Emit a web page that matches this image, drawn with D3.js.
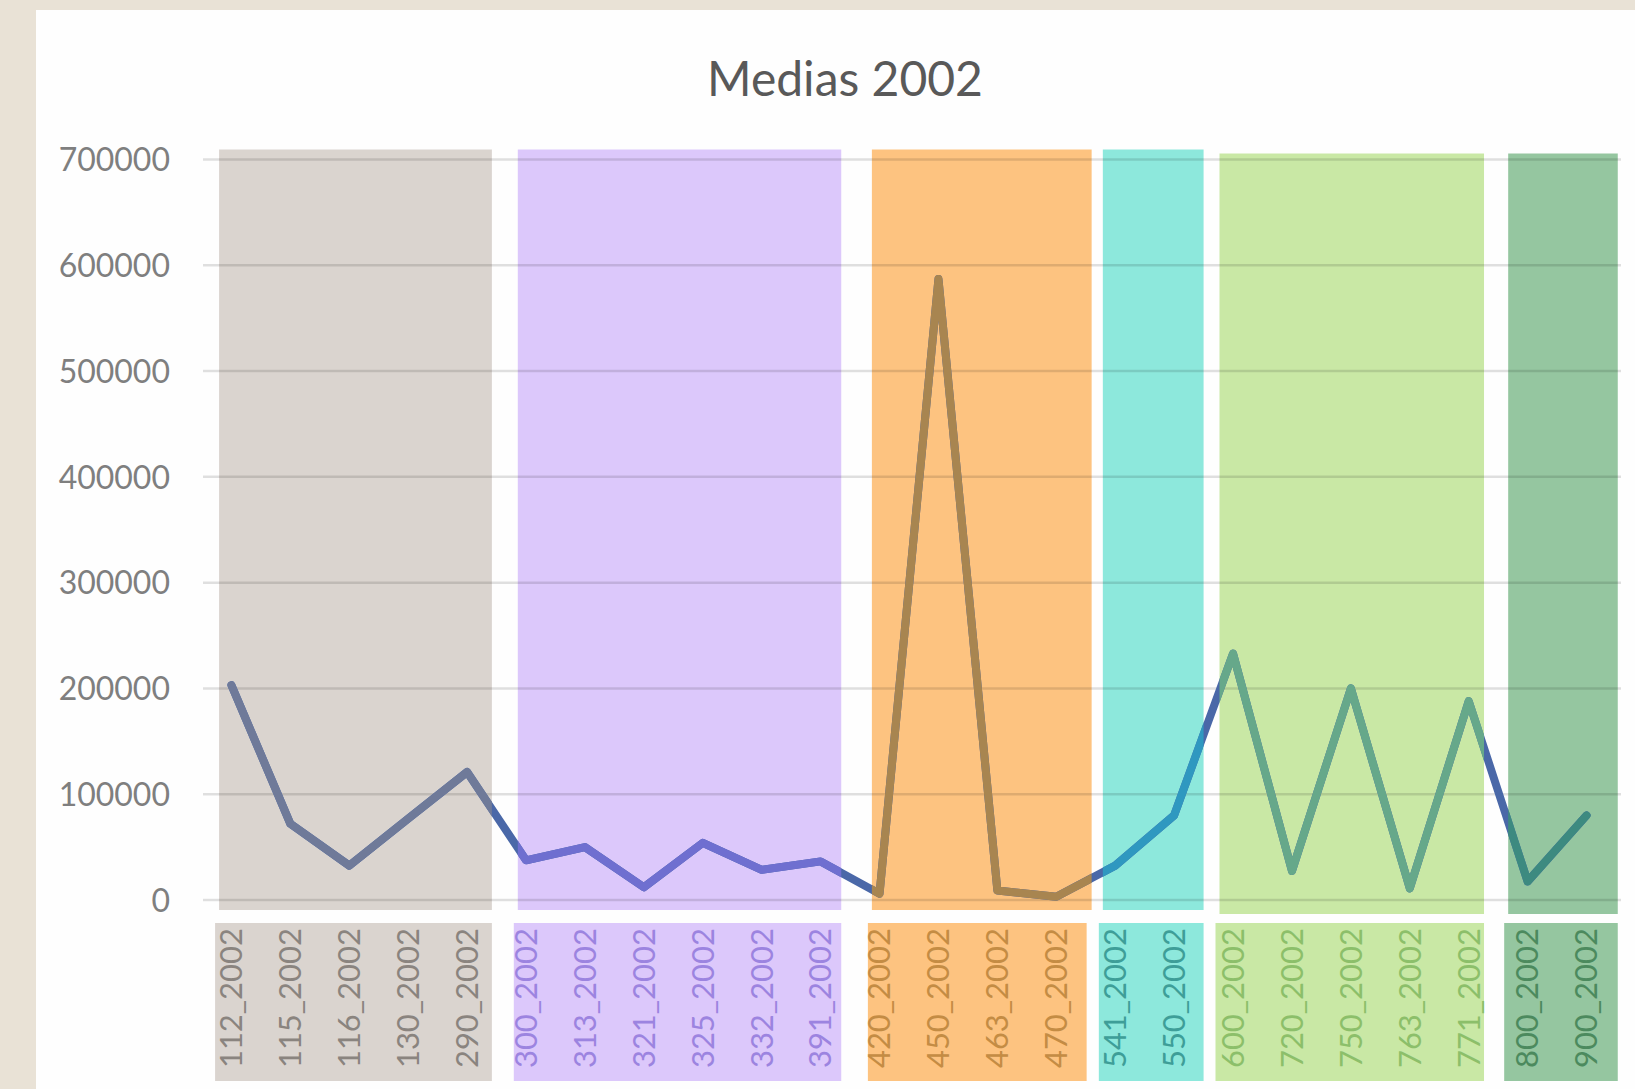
<!DOCTYPE html>
<html>
<head>
<meta charset="utf-8">
<script src="https://cdn.jsdelivr.net/npm/d3@7"></script>
<style>
  html, body { margin: 0; padding: 0; background: #e9e2d6; }
  svg { display: block; }
</style>
</head>
<body>
<svg id="chart" width="1635" height="1089"></svg>
<script>
// ---- data ----
const title = "Medias 2002";
const categories = ["112_2002","115_2002","116_2002","130_2002","290_2002",
  "300_2002","313_2002","321_2002","325_2002","332_2002","391_2002",
  "420_2002","450_2002","463_2002","470_2002",
  "541_2002","550_2002",
  "600_2002","720_2002","750_2002","763_2002","771_2002",
  "800_2002","900_2002"];
const values = [203000, 72000, 32500, 77000, 121000,
  37500, 50000, 12000, 54000, 28500, 36500,
  6000, 587000, 9000, 3000,
  32500, 80000,
  233000, 27500, 200000, 11000, 188000,
  17500, 80000];
const groupFirst = ["112_2002","300_2002","420_2002","541_2002","600_2002","800_2002"];
const groupLast  = ["290_2002","391_2002","470_2002","550_2002","771_2002","900_2002"];
const yTicks = [0, 100000, 200000, 300000, 400000, 500000, 600000, 700000];

// ---- styles ----
const groupFill = ["#dad4cf","#dcc8fb","#fdc380","#8de8dc","#c9e8a5","#95c6a0"];
const groupLine = ["#6f7a99","#6f6fd0","#a88550","#2f98c0","#66a88a","#3d8a80"];
const groupText = ["#8a847f","#9c84e0","#c48c44","#3e9e98","#8cbf6a","#4c8a5e"];
// inset of each shaded band, as fraction of a category step
const insetLeft  = [0.29, 0.36, 0.37, 0.29, 0.27, 0.17];
const insetRight = [0.08, 0.15, -0.10, 0.00, 0.24, -0.03];
const bandTopShift = [0, 0, 0, 0, 4, 4];
const baseLine = "#4a68a8";
const font = "Lato, 'Open Sans', sans-serif";

const svg = d3.select("#chart");
const W = 1635, H = 1089;

// background panel
svg.append("rect").attr("x", 0).attr("y", 0).attr("width", W).attr("height", H).attr("fill", "#e9e2d6");
svg.append("rect").attr("x", 36).attr("y", 10).attr("width", W - 36).attr("height", H - 10).attr("fill", "#fefefe");

const x = d3.scaleBand().domain(categories).range([202, 1616]).padding(0);
const y = d3.scaleLinear().domain([0, 700000]).range([900, 159.5]);
const step = x.step();

// title
svg.append("text").attr("x", 845).attr("y", 96)
  .attr("text-anchor", "middle").attr("font-family", font)
  .attr("font-size", 48).attr("fill", "#595959").text(title);

// group rects
const groups = groupFirst.map((f, i) => ({
  i, x0: x(f) + step * insetLeft[i], x1: x(groupLast[i]) + step - step * insetRight[i]
}));

svg.append("g").selectAll("rect").data(groups).join("rect")
  .attr("x", d => d.x0).attr("width", d => d.x1 - d.x0)
  .attr("y", d => y(700000) - 10 + bandTopShift[d.i])
  .attr("height", d => y(0) - y(700000) + 20)
  .attr("fill", d => groupFill[d.i]);

// label boxes
svg.append("g").selectAll("rect").data(groups).join("rect")
  .attr("x", d => d.x0 - 4).attr("width", d => d.x1 - d.x0 + (d.i === 2 ? -1 : 4))
  .attr("y", 923).attr("height", 158)
  .attr("fill", d => groupFill[d.i]);

// gridlines + y labels
const yAxis = d3.axisLeft(y).tickValues(yTicks).tickSize(0).tickPadding(0).tickFormat(d3.format("d"));
const ya = svg.append("g").attr("transform", "translate(170,0)").call(yAxis);
ya.select(".domain").remove();
ya.selectAll("text").attr("font-family", font).attr("font-size", 32).attr("fill", "#7f7f7f").attr("dy", "0.35em");

svg.append("g").selectAll("line").data(yTicks).join("line")
  .attr("x1", 203).attr("x2", 1621)
  .attr("y1", d => y(d)).attr("y2", d => y(d))
  .attr("stroke", "rgba(0,0,0,0.12)").attr("stroke-width", 2.5);

// line
const pts = categories.map((c, i) => [x(c) + step / 2, y(values[i])]);
const lineGen = d3.line();
const defs = svg.append("defs");
groups.forEach(g => {
  defs.append("clipPath").attr("id", "clip" + g.i)
    .append("rect").attr("x", g.x0).attr("width", g.x1 - g.x0).attr("y", 0).attr("height", H);
});
svg.append("path").attr("d", lineGen(pts)).attr("fill", "none")
  .attr("stroke", baseLine).attr("stroke-width", 8)
  .attr("stroke-linejoin", "round").attr("stroke-linecap", "round");
groups.forEach(g => {
  svg.append("path").attr("d", lineGen(pts)).attr("fill", "none")
    .attr("clip-path", `url(#clip${g.i})`)
    .attr("stroke", groupLine[g.i]).attr("stroke-width", 8)
    .attr("stroke-linejoin", "round").attr("stroke-linecap", "round");
});

// x labels
const groupOf = c => {
  const idx = categories.indexOf(c);
  let gi = 0;
  groupFirst.forEach((f, i) => { if (categories.indexOf(f) <= idx) gi = i; });
  return gi;
};
svg.append("g").selectAll("text").data(categories).join("text")
  .attr("transform", c => `translate(${x(c) + step / 2},928) rotate(-90)`)
  .attr("text-anchor", "end").attr("dy", "0.35em")
  .attr("font-family", font).attr("font-size", 31)
  .attr("fill", c => groupText[groupOf(c)])
  .text(c => c);
</script>
</body>
</html>
